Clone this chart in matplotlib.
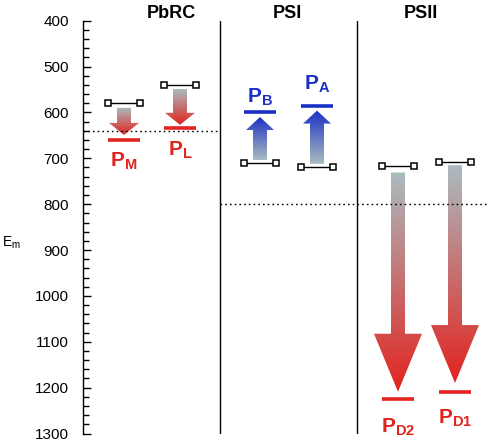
import numpy as np
import matplotlib
matplotlib.use("Agg")
import matplotlib.pyplot as plt
from matplotlib.patches import Polygon
from matplotlib.colors import LinearSegmentedColormap

plt.rcParams['font.family'] = ['Liberation Sans', 'DejaVu Sans']
plt.rcParams['mathtext.fontset'] = 'custom'
plt.rcParams['mathtext.rm'] = 'Liberation Sans'
plt.rcParams['mathtext.bf'] = 'Liberation Sans:bold'

# ---------------- data ----------------
groups = ["PbRC", "PSI", "PSII"]
pigments = ["M", "L", "B", "A", "D2", "D1"]
initial_E = [580, 540, 710, 720, 716, 707]      # bracket (start) levels
final_E = [660, 635, 600, 585, 1225, 1210]      # level lines
arrow_base = [590, 549, 704, 712, 731, 715]
arrow_tip = [649, 627, 610, 596, 1209, 1190]
ref_lines = [640, 800]
yticks = [400, 500, 600, 700, 800, 900, 1000, 1100, 1200, 1300]

# ---------------- layout ----------------
W, H = 488, 444
x_cent = [124, 180, 260, 317, 398, 455]   # pixel-like x positions
group_x = [171, 287, 421]
sep_x = [220, 357]
half_w = 16
shaft_hw = [7, 7, 7, 7, 7, 7]
head_hw = [15, 15, 14, 14, 24, 24]
head_len_px = [12, 12, 13, 13, 58, 58]
kinds = ['red', 'red', 'blue', 'blue', 'red', 'red']
label_off = [-27, -27, 10, 16, -34, -31]

RED = '#e2231f'
BLUE = '#1a30c4'
GRAY = '#aabcc0'

fig = plt.figure(figsize=(W / 100, H / 100), dpi=100)
ax = fig.add_axes([83 / W, (444 - 433.5) / H, 1 - 83 / W, (433.5 - 20.7) / H])
ax.set_xlim(83, 488)
ax.set_ylim(1300, 400)

px_per_unit = (433.5 - 20.7) / 900.0

def grad_arrow(xc, y0, y1, shw, hhw, hlen_px, c1):
    s = np.sign(y1 - y0)
    yh = y1 - s * hlen_px / px_per_unit
    verts = [(xc - shw, y0), (xc - shw, yh), (xc - hhw, yh), (xc, y1),
             (xc + hhw, yh), (xc + shw, yh), (xc + shw, y0)]
    poly = Polygon(verts, closed=True, fc='none', ec='none')
    ax.add_patch(poly)
    cmap = LinearSegmentedColormap.from_list('g', [GRAY, c1])
    grad = np.linspace(0, 1, 256).reshape(-1, 1)
    im = ax.imshow(grad, cmap=cmap, extent=[xc - hhw, xc + hhw, y0, y1],
                   origin='lower', aspect='auto', interpolation='bilinear', zorder=2)
    im.set_clip_path(poly)

for i, p in enumerate(pigments):
    xc = x_cent[i]
    col = RED if kinds[i] == 'red' else BLUE
    # bracket
    ax.plot([xc - half_w, xc + half_w], [initial_E[i]] * 2, color='black', lw=1,
            marker='s', ms=4.5, mfc='white', mec='black', mew=1.1, zorder=4)
    # arrow
    grad_arrow(xc, arrow_base[i], arrow_tip[i], shaft_hw[i], head_hw[i], head_len_px[i], col)
    # level line
    ax.plot([xc - half_w, xc + half_w], [final_E[i]] * 2, color=col, lw=2.6,
            solid_capstyle='butt', zorder=4)
    # label
    ax.annotate(r'$\mathbf{P_{%s}}$' % p, xy=(xc, final_E[i]), xytext=(0, label_off[i]),
                textcoords='offset pixels', ha='center', va='baseline',
                color=col, fontsize=15)

# reference dotted lines
ax.plot([83, sep_x[0]], [ref_lines[0]] * 2, color='black', lw=1, dashes=(1.2, 2.2), zorder=3)
ax.plot([sep_x[0], 488], [ref_lines[1]] * 2, color='black', lw=1, dashes=(1.2, 2.2), zorder=3)

for sx in sep_x:
    ax.axvline(sx, color='black', lw=1)

for gx, g in zip(group_x, groups):
    fig.text(gx / W, 1 - 13 / H, g, ha='center', va='center', fontsize=13, fontweight='bold')

fig.text(2 / W, 1 - 243 / H, r'E$_\mathregular{m}$', ha='left', va='center', fontsize=10)

ax.set_yticks(yticks)
ax.set_yticks(np.arange(400, 1301, 20), minor=True)
ax.tick_params(axis='y', which='major', direction='in', length=6, width=1, labelsize=11, pad=10)
ax.tick_params(axis='y', which='minor', direction='in', length=4, width=1)
ax.set_xticks([])
for s in ['top', 'right', 'bottom']:
    ax.spines[s].set_visible(False)
ax.spines['left'].set_linewidth(1)
ax.patch.set_alpha(0)

fig.savefig('out.png', dpi=100)
